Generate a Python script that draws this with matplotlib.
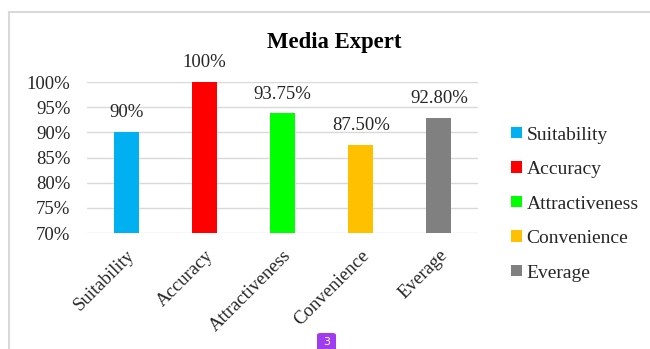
import matplotlib.pyplot as plt
from matplotlib.lines import Line2D
from matplotlib.patches import FancyBboxPatch

categories = ['Suitability', 'Accuracy', 'Attractiveness', 'Convenience', 'Everage']
values = [90, 100, 93.75, 87.5, 92.8]
labels = ['90%', '100%', '93.75%', '87.50%', '92.80%']
colors = ['#00B0F0', '#FF0000', '#00FF00', '#FFC000', '#808080']
yticks = [70, 75, 80, 85, 90, 95, 100]

plt.rcParams['font.family'] = ['Liberation Serif', 'DejaVu Serif']

fig = plt.figure(figsize=(6.5, 3.49), dpi=100)
ax = fig.add_axes([87 / 650, 1 - 233 / 349, (478 - 87) / 650, (233 - 82) / 349])

x = range(len(categories))
bars = ax.bar(x, values, width=0.32, color=colors, zorder=3, label=categories)
for xi, v, lab in zip(x, values, labels):
    ax.annotate(lab, (xi, v), xytext=(0, 14), textcoords='offset points',
                ha='center', va='center', fontsize=13.5, color='#262626')

ax.set_ylim(70, 100)
ax.set_xlim(-0.5, len(categories) - 0.5)
ax.set_yticks(yticks)
ax.set_yticklabels([f'{t}%' for t in yticks], fontsize=13.5, color='#262626')
ax.set_xticks(list(x))
ax.set_xticklabels(categories, rotation=45, ha='right', rotation_mode='anchor',
                   fontsize=13.5, color='#262626')
ax.tick_params(axis='y', length=0, pad=12)
ax.tick_params(axis='x', length=0, pad=10)
ax.grid(axis='y', color='#D9D9D9', linewidth=1, zorder=0)
for s in ax.spines.values():
    s.set_visible(False)

fig.text(334 / 650, 1 - 42.5 / 349, 'Media Expert', ha='center', va='center',
         fontsize=16.4, fontweight='bold')

leg = fig.legend(handles=bars, labels=categories, loc='center left',
                 bbox_to_anchor=(511 / 650, 1 - 204 / 349), frameon=False,
                 fontsize=14, handlelength=0.55, handleheight=0.55,
                 handletextpad=0.25, labelspacing=0.9, borderpad=0,
                 borderaxespad=0)
for t in leg.get_texts():
    t.set_color('#262626')

# chart frame
fig.add_artist(Line2D([9 / 650, 1], [1 - 12 / 349, 1 - 12 / 349], color='#D9D9D9', lw=1.5))
fig.add_artist(Line2D([9 / 650, 9 / 650], [0, 1 - 12 / 349], color='#D9D9D9', lw=1.5))

# page marker
fig.add_artist(FancyBboxPatch((317 / 650, -0.02), 19 / 650, 23 / 349,
                              boxstyle='round,pad=0,rounding_size=0.006',
                              facecolor='#A03CF0', edgecolor='none'))
fig.text(326.5 / 650, 7 / 349, '3', ha='center', va='center', color='white',
         fontsize=8, family='DejaVu Sans')

fig.savefig('out.png', dpi=100)
